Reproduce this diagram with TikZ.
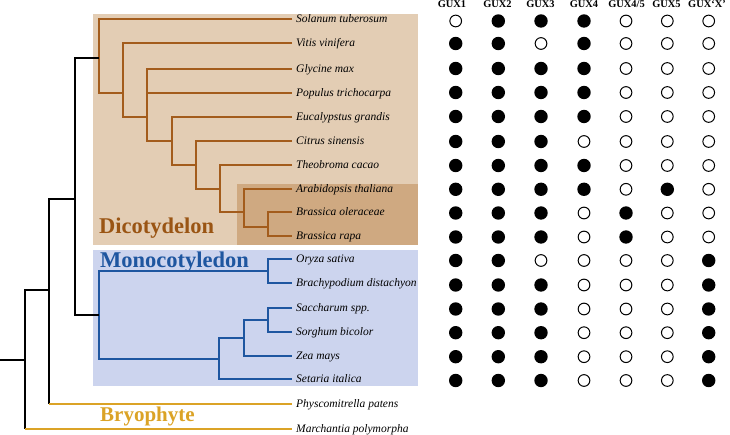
\documentclass[tikz,border=0pt]{standalone}
\usepackage{fontspec}
\setmainfont{Liberation Serif}
\usetikzlibrary{calc}
\definecolor{dicbg}{HTML}{E3CDB4}
\definecolor{brassbg}{HTML}{CFA981}
\definecolor{monbg}{HTML}{CCD4EE}
\definecolor{dicline}{HTML}{A35C1C}
\definecolor{dictext}{HTML}{9A5514}
\definecolor{monline}{HTML}{1E56A0}
\definecolor{bryo}{HTML}{DBA326}
\begin{document}
\begin{tikzpicture}[x=1pt,y=-1pt,
  taxon/.style={anchor=west, font=\fontsize{11.5}{13}\selectfont\itshape, inner sep=0pt, text height=8.5pt, text depth=1.5pt},
  dicl/.style={draw=dicline, line width=1.6pt},
  monl/.style={draw=monline, line width=1.6pt},
  blk/.style={draw=black, line width=1.6pt},
  bry/.style={draw=bryo, line width=1.6pt},
  clade/.style={anchor=base west, inner sep=0pt, font=\fontsize{22.5}{24}\selectfont\bfseries},
  hdr/.style={anchor=base, inner sep=0pt, font=\fontsize{10.4}{12}\selectfont\bfseries},
  fulldot/.style={circle, fill=black, minimum size=13.4pt, inner sep=0pt},
  emptydot/.style={circle, draw=black, fill=white, line width=1pt, minimum size=11.7pt, inner sep=0pt}
]
\useasboundingbox (0,0) rectangle (730,435);
% backgrounds
\fill[dicbg] (93.3,14.3) rectangle (418.3,245);
\fill[brassbg] (237.3,184) rectangle (418.3,245);
\fill[monbg] (93.3,250) rectangle (418.3,385.7);

% leaf ends and labels
\foreach \i/\yy/\taxname in {0/19/Solanum tuberosum,1/43/Vitis vinifera,2/69/Glycine max,3/93/Populus trichocarpa,4/117/Eucalypstus grandis,5/141/Citrus sinensis,6/165/Theobroma cacao,7/189/Arabidopsis thaliana,8/212/Brassica oleraceae,9/236/Brassica rapa,10/259/Oryza sativa,11/283/Brachypodium distachyon,12/308/Saccharum spp.,13/332/Sorghum bicolor,14/356/Zea mays,15/379/Setaria italica,16/404/Physcomitrella patens,17/429/Marchantia polymorpha}{
  \coordinate (e\i) at (292,\yy);
  \node[taxon] (t\i) at (296,\yy) {\taxname};
}

% x positions of dicot nodes
\coordinate (xA) at (99,0);
\coordinate (xB) at (123,0);
\coordinate (xC) at (147,0);
\coordinate (xD) at (172,0);
\coordinate (xE) at (196,0);
\coordinate (xF) at (220,0);
\coordinate (xG) at (244,0);
\coordinate (xH) at (268,0);
\coordinate (gB) at (0,227);

% dicot tree
\draw[dicl] (e0) -| (xA |- e3) -- (xB |- e3);
\draw[dicl] (e1) -| (xB |- e4) -- (xC |- e4);
\draw[dicl] (e2) -| (xC |- e5) -- (xD |- e5);
\draw[dicl] (xC |- e3) -- (e3);
\draw[dicl] (e4) -| (xD |- e6) -- (xE |- e6);
\draw[dicl] (e5) -| (xE |- e7) -- (xF |- e7);
\draw[dicl] (e6) -| (xF |- e8) -- (xG |- e8);
\draw[dicl] (e7) -| (xG |- gB) -- (xH |- gB);
\draw[dicl] (e8) -| (xH |- e9) -- (e9);

% monocot tree
\coordinate (nO) at (268,271);
\coordinate (nS) at (268,320);
\coordinate (nZ) at (244,338);
\coordinate (nT) at (219,359);
\coordinate (nM) at (99,315);
\draw[monl] (e10) -| (nO) |- (e11);
\draw[monl] (e12) -| (nS) |- (e13);
\draw[monl] (nS) -| (nZ) |- (e14);
\draw[monl] (nZ) -| (nT) |- (e15);
\draw[monl] (nO) -| (nM) |- (nT);

% backbone
\coordinate (nD) at (99,58);
\coordinate (n75) at (75,199);
\coordinate (n49) at (49,290);
\coordinate (n25) at (25,360);
\coordinate (root) at (0,360);
\draw[blk] (nM) -| (n75) |- (nD);
\draw[blk] (n75) -| (n49) -- (n49 |- e16);
\draw[blk] (n49) -| (n25) -- (n25 |- e17);
\draw[blk] (root) -- (n25);
\draw[bry] (n49 |- e16) -- (e16);
\draw[bry] (n25 |- e17) -- (e17);

% clade labels
\node[clade, text=dictext] (ldic) at (99,234) {Dicotydelon};
\node[clade, text=monline] (lmon) at (100,267.3) {Monocotyledon};
\node[clade, text=bryo, font=\fontsize{21}{23}\selectfont\bfseries] (lbry) at (100,421.7) {Bryophyte};

% headers
\foreach \hx/\hlab [count=\k] in {452/GUX1,497.5/GUX2,540.5/GUX3,584/GUX4,626.5/{GUX4/5},666.5/GUX5,707/GUX‘X’}{
  \node[hdr] (h\k) at (\hx,8) {\hlab};
}

% presence dots
\foreach \rr/\ry/\vals in {0/21/{0,1,1,1,0,0,0},1/43.5/{1,1,0,1,0,0,0},2/68.5/{1,1,1,1,0,0,0},3/92.5/{1,1,1,1,0,0,0},4/116.5/{1,1,1,1,0,0,0},5/141.5/{1,1,1,0,0,0,0},6/165.5/{1,1,1,1,0,0,0},7/189.3/{1,1,1,1,0,1,0},8/213/{1,1,1,0,1,0,0},9/237/{1,1,1,0,1,0,0},10/260.5/{1,1,0,0,0,0,1},11/285/{1,1,1,0,0,0,1},12/309/{1,1,1,0,0,0,1},13/332.7/{1,1,1,0,0,0,1},14/356.7/{1,1,1,0,0,0,1},15/380.5/{1,1,1,0,0,0,1}}{
  \foreach \vv [count=\cc] in \vals {
    \pgfmathsetmacro\cx{{455.7,498.3,541,584,626,667.3,708.7}[\cc-1]}
    \ifnum\vv=1
      \node[fulldot] (d\rr-\cc) at (\cx,\ry) {};
    \else
      \node[emptydot] (d\rr-\cc) at (\cx,\ry) {};
    \fi
  }
}
\end{tikzpicture}
\end{document}
